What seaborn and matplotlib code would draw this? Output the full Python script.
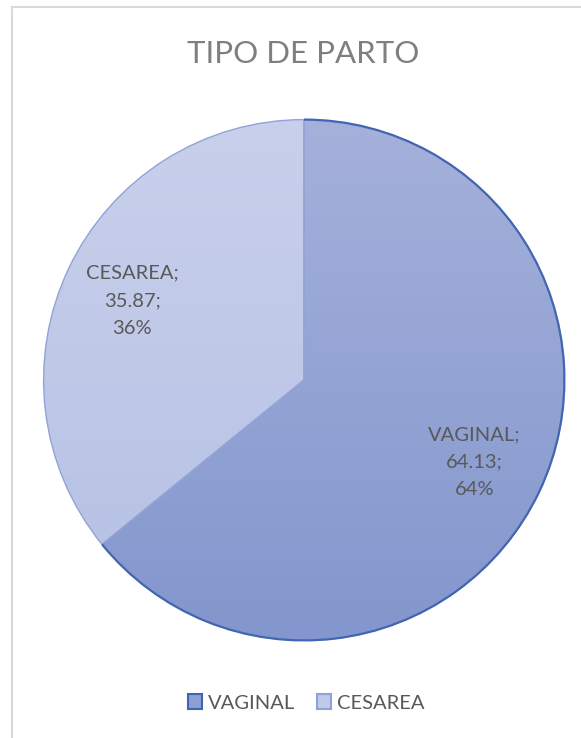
import numpy as np
import seaborn as sns
import matplotlib.pyplot as plt
from matplotlib.patches import Patch, Rectangle, Arc
from matplotlib.colors import LinearSegmentedColormap

sns.set_theme(style="white")
plt.rcParams['font.family'] = ['Lato', 'DejaVu Sans']

# data
categories = ["VAGINAL", "CESAREA"]
values = [64.13, 35.87]
percent_labels = ["64%", "36%"]
title = "TIPO DE PARTO"

# styling
grad_top = ["#A5B1DB", "#C8D0EB"]
grad_bottom = ["#8396CD", "#B5C0E4"]
legend_face = ["#8D9ED3", "#C0C9E8"]
legend_edge = ["#3F64B0", "#8EA2D8"]

fig = plt.figure(figsize=(5.81, 7.38), dpi=100)
ax = fig.add_axes([41 / 581, 1 - 643 / 738, 526 / 581, 526 / 738])

wedges, _ = ax.pie(values, startangle=90, counterclock=False, radius=1,
                   wedgeprops=dict(edgecolor="#92A3D6", linewidth=1.0))
ax.set_xlim(-1.01, 1.01)
ax.set_ylim(-1.01, 1.01)
ax.set_aspect("equal")

# vertical gradient in each slice
grad = np.linspace(0, 1, 256).reshape(-1, 1)
for w, c0, c1 in zip(wedges, grad_top, grad_bottom):
    cmap = LinearSegmentedColormap.from_list("g", [c0, c1])
    im = ax.imshow(grad, cmap=cmap, extent=(-1, 1, -1, 1), origin="upper",
                   aspect="auto", zorder=0.5)
    im.set_clip_path(w)
    w.set_facecolor("none")
    w.set_zorder(1)

# darker outer rim on the vaginal slice
t1 = 90 - 360 * values[0] / sum(values)
ax.add_patch(Arc((0, 0), 2, 2, theta1=t1, theta2=90, color="#4266B1", lw=1.6, zorder=2))

# data labels
label_pos = [(0.655, -0.315), (-0.66, 0.305)]
for cat, v, p, (x, y) in zip(categories, values, percent_labels, label_pos):
    ax.text(x, y, f"{cat};\n{v:.2f};\n{p}", ha="center", va="center",
            fontsize=14.5, color="#595959", linespacing=1.75, zorder=3)

fig.text(0.522, 1 - 54 / 738, title, ha="center", va="center",
         fontsize=22.5, color="#7F7F7F")

handles = [Patch(facecolor=f, edgecolor=e, linewidth=1.5, label=c)
           for f, e, c in zip(legend_face, legend_edge, categories)]
leg = fig.legend(handles=handles, loc="center", bbox_to_anchor=(0.527, 1 - 703 / 738),
                 ncol=2, frameon=False, fontsize=14.5, handlelength=0.7,
                 handleheight=0.7, handletextpad=0.3, columnspacing=1.1)
for t in leg.get_texts():
    t.set_color("#595959")

fig.patches.append(Rectangle((12 / 581, -0.1), 1.0, 1.1 - 7 / 738, transform=fig.transFigure,
                             fill=False, edgecolor="#D9D9D9", linewidth=1.5))

fig.savefig("out.png", dpi=100, facecolor="white")
